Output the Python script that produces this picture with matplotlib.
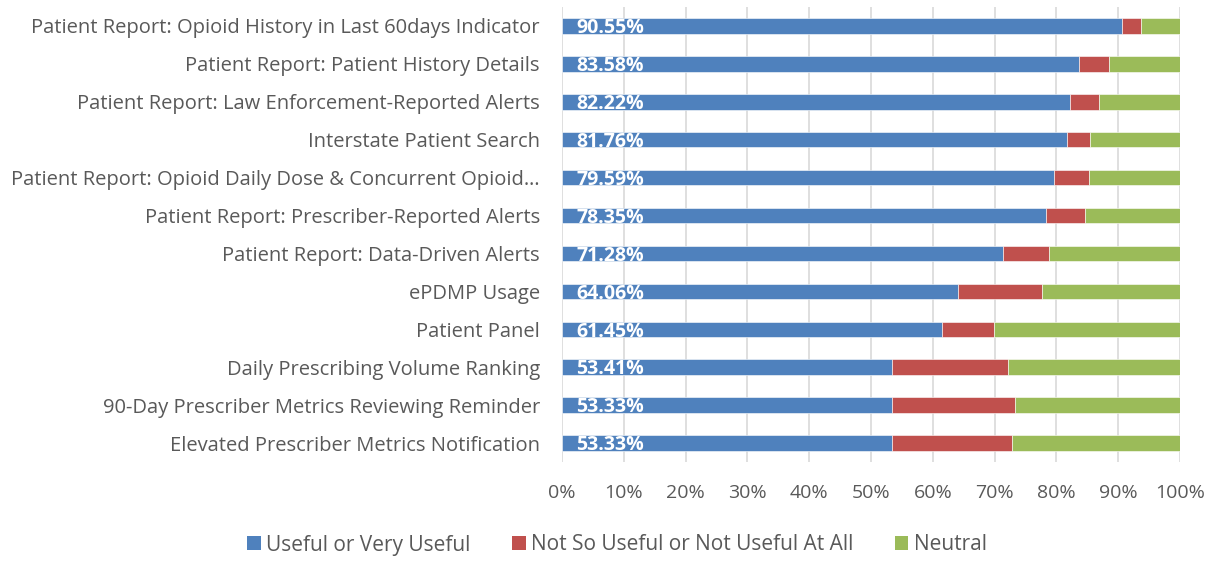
import matplotlib
matplotlib.use("Agg")
import matplotlib.pyplot as plt
from matplotlib.patches import Patch

categories = [
    "Patient Report: Opioid History in Last 60days Indicator",
    "Patient Report: Patient History Details",
    "Patient Report: Law Enforcement-Reported Alerts",
    "Interstate Patient Search",
    "Patient Report: Opioid Daily Dose & Concurrent Opioid\u2026",
    "Patient Report: Prescriber-Reported Alerts",
    "Patient Report: Data-Driven Alerts",
    "ePDMP Usage",
    "Patient Panel",
    "Daily Prescribing Volume Ranking",
    "90-Day Prescriber Metrics Reviewing Reminder",
    "Elevated Prescriber Metrics Notification",
]
useful = [90.55, 83.58, 82.22, 81.76, 79.59, 78.35, 71.28, 64.06, 61.45, 53.41, 53.33, 53.33]
not_useful = [3.2, 5.0, 4.6, 3.6, 5.7, 6.35, 7.5, 13.6, 8.5, 18.8, 20.0, 19.5]
neutral = [100 - u - n for u, n in zip(useful, not_useful)]
series_names = ["Useful or Very Useful", "Not So Useful or Not Useful At All", "Neutral"]
colors = ["#4F81BD", "#C0504D", "#9BBB59"]
xticks = list(range(0, 101, 10))

plt.rcParams['font.family'] = ['Open Sans', 'DejaVu Sans']
text_color = "#595959"

fig = plt.figure(figsize=(12.17, 5.61), dpi=100)
ax = fig.add_axes([562/1217, 1 - 462/561, (1180-562)/1217, (462-7)/561])

y = list(range(len(categories)))
h = 0.41
left = [0]*len(y)
for vals, c in zip([useful, not_useful, neutral], colors):
    ax.barh(y, vals, left=left, height=h, color=c, edgecolor="white", linewidth=0.4, zorder=3)
    left = [l + v for l, v in zip(left, vals)]

for yi, v in zip(y, useful):
    ax.text(2.3, yi + 0.06, f"{v:.2f}%", color="white", fontweight="bold",
            fontsize=14, va="center", ha="left", zorder=4)

ax.set_xlim(0, 100)
ax.set_ylim(len(categories) - 0.5, -0.5)
ax.set_xticks(xticks)
ax.set_xticklabels([f"{t}%" for t in xticks], fontsize=14, color=text_color)
ax.set_yticks(y)
ax.set_yticklabels(categories, fontsize=14.5, color=text_color)
ax.grid(axis="x", color="#D9D9D9", linewidth=1.2, zorder=0)
for s in ["top", "right", "left", "bottom"]:
    ax.spines[s].set_visible(False)
ax.tick_params(axis="y", length=0, pad=16)
ax.tick_params(axis="x", length=0, pad=16)

handles = [Patch(facecolor=c, edgecolor="none") for c in colors]
leg = fig.legend(handles, series_names, loc="center", bbox_to_anchor=(617/1217, 1 - 545/561),
                 ncol=3, frameon=False, fontsize=15, handlelength=0.65, handleheight=0.65,
                 handletextpad=0.25, columnspacing=2.0)
for t in leg.get_texts():
    t.set_color(text_color)

fig.savefig("out.png", dpi=100)
